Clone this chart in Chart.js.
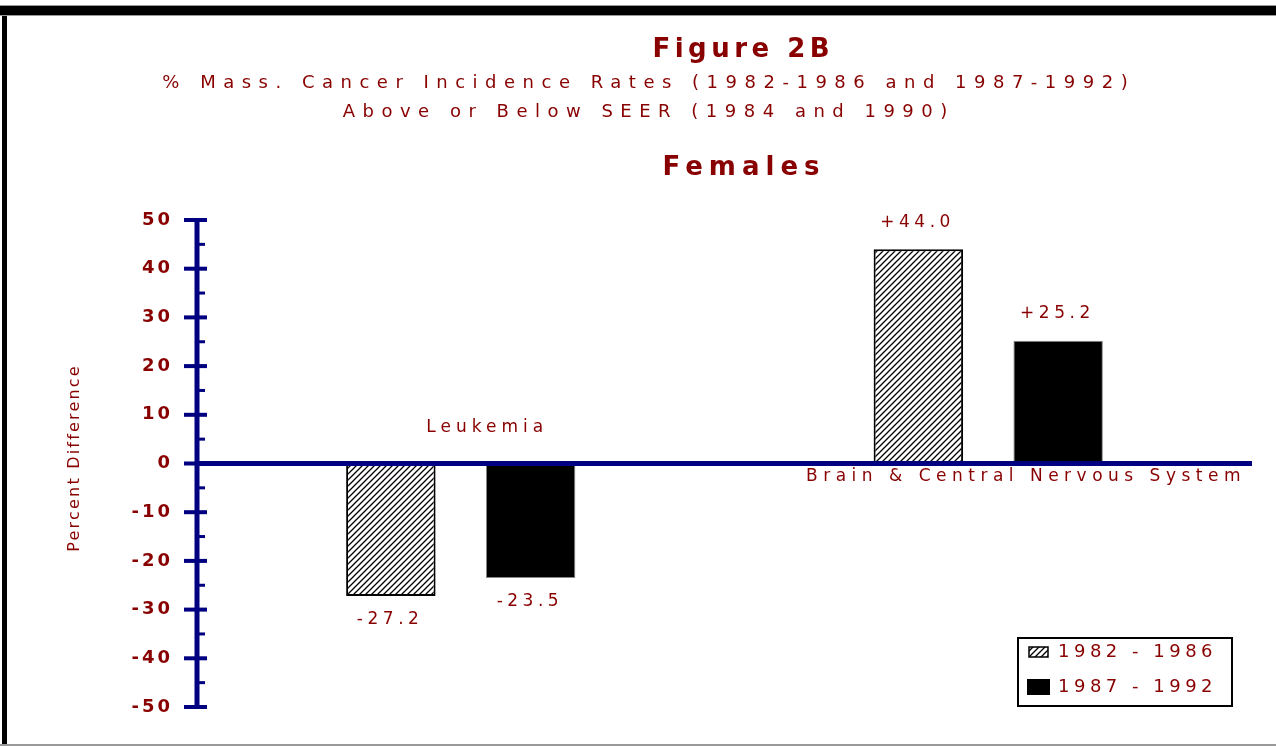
<!DOCTYPE html>
<html>
<head>
<meta charset="utf-8">
<script src="https://cdn.jsdelivr.net/npm/chart.js@4/dist/chart.umd.min.js"></script>
<style>
  html, body { margin: 0; padding: 0; background: #fff; }
  canvas { display: block; }
</style>
</head>
<body>
<canvas id="chart" width="1276" height="746"></canvas>
<script>
// Data
const categories = ['Leukemia', 'Brain & Central Nervous System'];
const seriesLabels = ['1982 - 1986', '1987 - 1992'];
const values8286 = [-27.2, 44.0];
const values8792 = [-23.5, 25.2];
const valueText8286 = ['-27.2', '+44.0'];
const valueText8792 = ['-23.5', '+25.2'];
const yTicks = [50, 40, 30, 20, 10, 0, -10, -20, -30, -40, -50];

const RED = '#880000';
const NAVY = '#000080';
const FONT = '"DejaVu Sans", "Liberation Sans", Arial, sans-serif';

const ctx0 = document.getElementById('chart').getContext('2d');

// Hatch pattern for first period
const hatch = (function () {
    const c = document.createElement('canvas');
    c.width = 6; c.height = 6;
    const g = c.getContext('2d');
    g.fillStyle = '#fff';
    g.fillRect(0, 0, 6, 6);
    g.strokeStyle = '#000';
    g.lineWidth = 1.3;
    g.beginPath();
    g.moveTo(0, 6); g.lineTo(6, 0);
    g.moveTo(-1, 1); g.lineTo(1, -1);
    g.moveTo(5, 7); g.lineTo(7, 5);
    g.stroke();
    return ctx0.createPattern(c, 'repeat');
})();

function spacedText(ctx, text, x, y, font, spacing, align) {
    ctx.save();
    ctx.font = font;
    ctx.letterSpacing = spacing + 'px';
    ctx.textAlign = 'left';
    ctx.textBaseline = 'middle';
    ctx.fillStyle = RED;
    let w = ctx.measureText(text).width;
    if (ctx.letterSpacing) w -= spacing;
    let left = x;
    if (align === 'center') left = x - w / 2;
    else if (align === 'right') left = x - w;
    ctx.fillText(text, left, y);
    ctx.restore();
}

const decorPlugin = {
    id: 'decor',
    beforeDatasetsDraw(chart) {
        const ctx = chart.ctx;
        // frame
        ctx.save();
        ctx.fillStyle = '#000';
        ctx.fillRect(0, 6, chart.width, 9);
        ctx.fillRect(2, 6, 5, 738);
        ctx.fillStyle = '#999';
        ctx.fillRect(0, 5, chart.width, 1);
        ctx.fillRect(0, 15, chart.width, 1);
        ctx.fillRect(0, 744, chart.width, 2);
        ctx.restore();

        // titles
        spacedText(ctx, 'Figure 2B', 741, 50, 'bold 26px ' + FONT, 4.5, 'center');
        spacedText(ctx, '% Mass. Cancer Incidence Rates (1982-1986 and 1987-1992)', 645, 83, '18px ' + FONT, 7.5, 'center');
        spacedText(ctx, 'Above or Below SEER (1984 and 1990)', 645, 112, '18px ' + FONT, 7.5, 'center');
        spacedText(ctx, 'Females', 741, 168, 'bold 26px ' + FONT, 6, 'center');

        // y axis title
        ctx.save();
        ctx.translate(75, 459);
        ctx.rotate(-Math.PI / 2);
        spacedText(ctx, 'Percent Difference', 0, 0, '16px ' + FONT, 2.2, 'center');
        ctx.restore();
    },
    afterDatasetsDraw(chart) {
        const ctx = chart.ctx;
        const y = chart.scales.y;
        const x = chart.scales.x;
        const area = chart.chartArea;
        const axisX = area.left;

        ctx.save();
        ctx.fillStyle = NAVY;
        // zero line
        const y0 = y.getPixelForValue(0);
        ctx.fillRect(axisX, y0 - 2.5, area.right - axisX, 5);
        // y axis line
        ctx.fillRect(axisX - 2.5, y.getPixelForValue(50) - 2, 5, y.getPixelForValue(-50) - y.getPixelForValue(50) + 4);
        // ticks (major every 10, minor every 5)
        for (let v = -50; v <= 50; v += 5) {
            const py = y.getPixelForValue(v);
            if (v % 10 === 0) ctx.fillRect(axisX - 13, py - 2, 23, 4);
            else ctx.fillRect(axisX, py - 1.5, 8, 3);
        }
        ctx.restore();

        // tick labels
        yTicks.forEach(v => {
            spacedText(ctx, String(v), axisX - 27, y.getPixelForValue(v), 'bold 18px ' + FONT, 3, 'right');
        });

        // category labels
        spacedText(ctx, categories[0], x.getPixelForValue(0) + 24, y0 - 36, '17px ' + FONT, 5, 'center');
        spacedText(ctx, categories[1], x.getPixelForValue(1) + 35, y0 + 13, '17px ' + FONT, 5.5, 'center');

        // value labels
        const texts = [valueText8286, valueText8792];
        chart.data.datasets.forEach((ds, di) => {
            chart.getDatasetMeta(di).data.forEach((bar, i) => {
                const v = ds.data[i];
                const ly = v < 0 ? bar.y + 24 : bar.y - 27;
                spacedText(ctx, texts[di][i], bar.x - 3, ly, '17px ' + FONT, 4.5, 'center');
            });
        });

        // legend
        ctx.save();
        ctx.strokeStyle = '#000';
        ctx.lineWidth = 2;
        ctx.strokeRect(1018, 638, 214, 68);
        ctx.fillStyle = hatch;
        ctx.fillRect(1029, 647, 19, 10);
        ctx.strokeStyle = '#000';
        ctx.lineWidth = 1.5;
        ctx.strokeRect(1029, 647, 19, 10);
        ctx.fillStyle = '#000';
        ctx.fillRect(1027, 679, 23, 16);
        ctx.restore();
        spacedText(ctx, chart.data.datasets[0].label, 1058, 652, '18px ' + FONT, 4.5, 'left');
        spacedText(ctx, chart.data.datasets[1].label, 1058, 687, '18px ' + FONT, 4.5, 'left');
    }
};

new Chart(ctx0, {
    type: 'bar',
    data: {
        labels: categories,
        datasets: [
            {
                label: seriesLabels[0],
                data: values8286,
                backgroundColor: hatch,
                borderColor: '#000',
                borderWidth: 2,
                borderSkipped: false
            },
            {
                label: seriesLabels[1],
                data: values8792,
                backgroundColor: '#000',
                borderColor: '#888',
                borderWidth: 1,
                borderSkipped: false
            }
        ]
    },
    options: {
        responsive: false,
        animation: false,
        categoryPercentage: 0.53,
        barPercentage: 0.64,
        layout: {
            padding: { left: 197, right: 24, top: 220, bottom: 39 }
        },
        plugins: {
            legend: { display: false },
            title: { display: false },
            tooltip: { enabled: false }
        },
        scales: {
            x: { display: false },
            y: { display: false, min: -50, max: 50 }
        }
    },
    plugins: [decorPlugin]
});
</script>
</body>
</html>
